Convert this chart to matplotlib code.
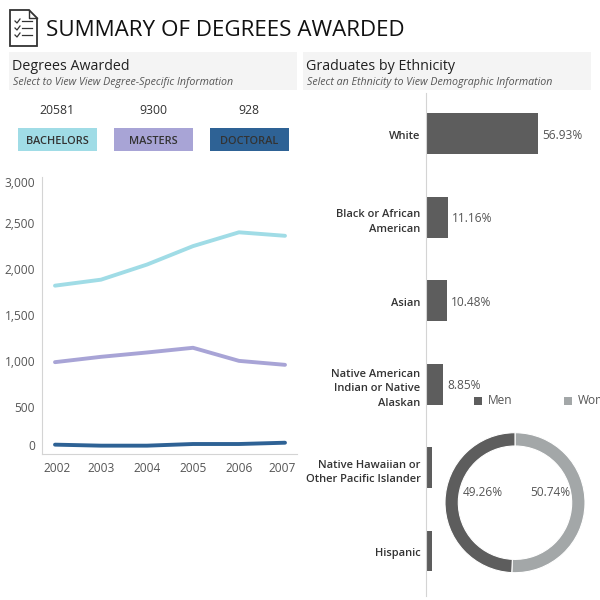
import matplotlib
matplotlib.use("Agg")
import matplotlib.pyplot as plt
from matplotlib.patches import Polygon, Rectangle
from matplotlib.transforms import ScaledTranslation

plt.rcParams["font.family"] = ["Open Sans", "DejaVu Sans"]

years = [2002, 2003, 2004, 2005, 2006, 2007]
bachelors = [1821, 1886, 2050, 2250, 2400, 2362]
masters = [991, 1049, 1096, 1147, 1005, 962]
doctoral = [96, 85, 85, 103, 103, 117]
y_ticks = [0, 500, 1000, 1500, 2000, 2500, 3000]

degree_names = ["BACHELORS", "MASTERS", "DOCTORAL"]
degree_totals = [20581, 9300, 928]
degree_colors = ["#A0DCE6", "#A8A4D6", "#2E6295"]

ethnicities = [
    "White",
    "Black or African\nAmerican",
    "Asian",
    "Native American\nIndian or Native\nAlaskan",
    "Native Hawaiian or\nOther Pacific Islander",
    "Hispanic",
]
ethnicity_pct = [56.93, 11.16, 10.48, 8.85, 3.3, 3.3]

gender_names = ["Men", "Women"]
gender_pct = [49.26, 50.74]
gender_colors = ["#5D5D5D", "#A3A7A8"]

TEXT = "#555555"
DARK = "#333333"
AXIS = "#D4D4D4"


def px_axes(fig, left, top, right, bottom, **kw):
    # pixel box measured from the top left of the 600x600 picture
    return fig.add_axes([left / 600, 1 - bottom / 600, (right - left) / 600, (bottom - top) / 600], **kw)


fig = plt.figure(figsize=(6, 6), dpi=100, facecolor="white")

# page layer in pixel coordinates: header, icon, panels, buttons
page = fig.add_axes([0, 0, 1, 1])
page.set_xlim(0, 600)
page.set_ylim(600, 0)
page.axis("off")

page.add_patch(Polygon([(10, 10), (29, 10), (37, 18), (37, 46), (10, 46)], closed=True, fc="white", ec="#333333", lw=1.3))
page.plot([29, 29, 37], [10, 18, 18], color="#333333", lw=1)
for y in [21, 28, 35]:
    page.plot([15, 17, 20], [y, y + 2, y - 2], color="#333333", lw=0.9)
    page.plot([22, 32], [y, y], color="#333333", lw=0.9)

page.text(46, 31, "SUMMARY OF DEGREES AWARDED", fontsize=16.1, color="#111111", va="center", ha="left")

for left, title, sub in [
    (9, "Degrees Awarded", "Select to View View Degree-Specific Information"),
    (303, "Graduates by Ethnicity", "Select an Ethnicity to View Demographic Information"),
]:
    page.add_patch(Rectangle((left, 52), 288, 38, fc="#F4F4F4", ec="none"))
    page.text(left + 3, 66, title, fontsize=10.3, color="#222222", va="center")
    page.text(left + 4, 83, sub, fontsize=7.7, color="#555555", style="italic", va="center")

for left, name, total, color in zip([18, 114, 210], degree_names, degree_totals, degree_colors):
    page.text(left + 39, 110, str(total), fontsize=8.8, color=DARK, ha="center", va="center")
    page.add_patch(Rectangle((left, 128), 79, 23, fc=color, ec="none"))
    page.text(left + 39, 141, name, fontsize=7.9, color=DARK, ha="center", va="center", fontweight="semibold")

# degrees by year
ax = px_axes(fig, 42, 177, 297, 453.5)
ax.patch.set_alpha(0)
for values, color in zip([bachelors, masters, doctoral], degree_colors):
    ax.plot(years, values, color=color, lw=2.8, solid_capstyle="round")
ax.set_xlim(2002 - 13 / 46, 2007 + 12 / 46)
ax.set_ylim(0, 3000)
ax.set_xticks(years)
ax.set_yticks(y_ticks)
ax.set_yticklabels([f"{v:,}" for v in y_ticks])
ax.tick_params(length=0, labelsize=8.6, labelcolor=TEXT, pad=5)
ax.tick_params(axis="x", pad=6)
labels = ax.get_yticklabels()
labels[0].set_va("bottom")
labels[-1].set_va("top")
# end year labels sit a little inside their points
xlabels = ax.get_xticklabels()
xlabels[0].set_transform(xlabels[0].get_transform() + ScaledTranslation(2 / 100, 0, fig.dpi_scale_trans))
xlabels[-1].set_transform(xlabels[-1].get_transform() + ScaledTranslation(-3 / 100, 0, fig.dpi_scale_trans))
for side in ["top", "right"]:
    ax.spines[side].set_visible(False)
for side in ["left", "bottom"]:
    ax.spines[side].set_color(AXIS)

# ethnicity bars
bx = px_axes(fig, 426, 93, 600, 596)
bx.patch.set_alpha(0)
positions = list(range(len(ethnicities)))
bx.barh(positions, ethnicity_pct, height=0.49, color="#5D5D5D")
bx.set_xlim(0, 174 / 1.967)
bx.set_ylim(5.54, -0.49)
bx.set_xticks([])
bx.set_yticks(positions)
bx.set_yticklabels(ethnicities, fontsize=8.0, color=DARK, fontweight="semibold", multialignment="right", linespacing=1.42)
bx.tick_params(length=0, pad=4)
nudge = ScaledTranslation(0, -1.5 / 100, fig.dpi_scale_trans)
for label in bx.get_yticklabels():
    label.set_transform(label.get_transform() + nudge)
for side in ["top", "right", "bottom"]:
    bx.spines[side].set_visible(False)
bx.spines["left"].set_color(AXIS)
for pos, pct in zip(positions[:4], ethnicity_pct[:4]):
    bx.annotate(f"{pct:.2f}%", (pct, pos), xytext=(3, -1), textcoords="offset points", fontsize=8.6, color=TEXT, va="center")

# gender donut, floats over the lower bars
dx = px_axes(fig, 445, 432.7, 585, 572.7)
wedges, _ = dx.pie(
    gender_pct[::-1],
    colors=gender_colors[::-1],
    startangle=90,
    counterclock=False,
    radius=1.0,
    wedgeprops={"width": 0.19, "edgecolor": "white", "linewidth": 0.8},
)
dx.set_xlim(-1, 1)
dx.set_ylim(-1, 1)
over = fig.add_axes([0, 0, 1, 1])
over.set_xlim(0, 600)
over.set_ylim(600, 0)
over.axis("off")
over.text(483, 492, f"{gender_pct[0]:.2f}%", fontsize=8.6, color=TEXT, ha="center", va="center")
over.text(550, 492, f"{gender_pct[1]:.2f}%", fontsize=8.6, color=TEXT, ha="center", va="center")
for left, name, color in zip([474, 564], gender_names, gender_colors):
    over.add_patch(Rectangle((left, 397), 8, 8, fc=color, ec="none"))
    over.text(left + 14, 401, name, fontsize=8.6, color=TEXT, va="center", clip_on=False)

fig.savefig("out.png", dpi=100)
